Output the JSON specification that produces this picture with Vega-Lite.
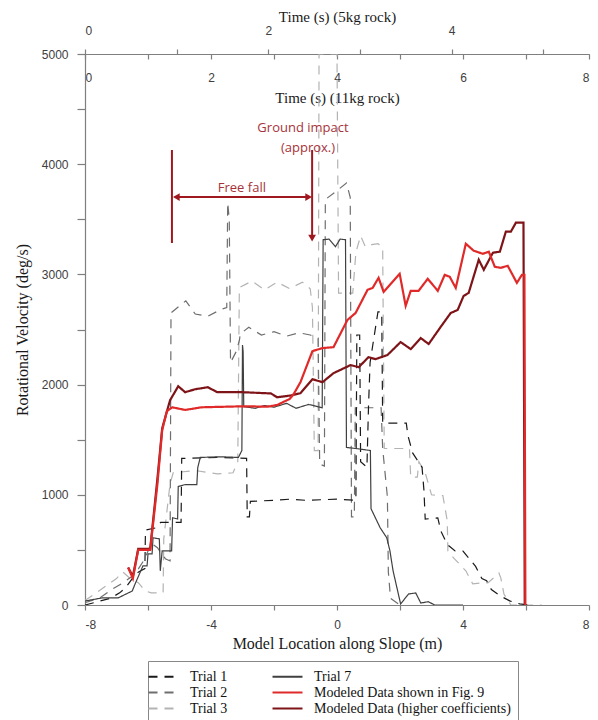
{
"$schema": "https://vega.github.io/schema/vega-lite/v6.json",
"width": 504, "height": 551,
"autosize": {"type": "none"},
"padding": {"left": 85, "top": 54, "right": 9, "bottom": 115},
"background": "white",
"config": {
  "view": {"stroke": null},
  "axis": {"grid": false, "domainColor": "#7f7f7f", "tickColor": "#7f7f7f", "labelColor": "#404040", "labelFont": "Liberation Sans", "labelFontSize": 12, "titleFont": "Liberation Serif", "titleFontWeight": "normal", "titleColor": "#1a1a1a", "titleFontSize": 16, "domainWidth": 1.2, "tickWidth": 1.2},
  "legend": {"labelFont": "Liberation Serif", "labelFontSize": 14, "labelColor": "#111"}
},
"layer": [
  {
    "data": {"values": [
      {"s":"Trial 3","m":-8,"v":40},{"s":"Trial 3","m":-7.6,"v":120},{"s":"Trial 3","m":-7.3,"v":180},{"s":"Trial 3","m":-7.0,"v":240},{"s":"Trial 3","m":-6.8,"v":300},{"s":"Trial 3","m":-6.6,"v":250},{"s":"Trial 3","m":-6.3,"v":200},{"s":"Trial 3","m":-6.1,"v":130},{"s":"Trial 3","m":-5.9,"v":110},{"s":"Trial 3","m":-5.52,"v":110},{"s":"Trial 3","m":-5.5,"v":600},{"s":"Trial 3","m":-5.3,"v":1100},{"s":"Trial 3","m":-5.2,"v":1200},{"s":"Trial 3","m":-4.5,"v":1220},{"s":"Trial 3","m":-3.8,"v":1190},{"s":"Trial 3","m":-3.3,"v":1200},{"s":"Trial 3","m":-3.15,"v":1300},{"s":"Trial 3","m":-3.1,"v":2880},{"s":"Trial 3","m":-2.7,"v":2940},{"s":"Trial 3","m":-2.3,"v":2860},{"s":"Trial 3","m":-1.9,"v":2930},{"s":"Trial 3","m":-1.5,"v":2870},{"s":"Trial 3","m":-1.1,"v":2930},{"s":"Trial 3","m":-0.85,"v":2870},{"s":"Trial 3","m":-0.78,"v":2700},{"s":"Trial 3","m":-0.72,"v":1400},{"s":"Trial 3","m":-0.6,"v":1400},{"s":"Trial 3","m":-0.57,"v":5000},{"s":"Trial 3","m":0.0,"v":5000},{"s":"Trial 3","m":0.05,"v":2830},{"s":"Trial 3","m":0.5,"v":2830},{"s":"Trial 3","m":0.6,"v":3200},{"s":"Trial 3","m":0.75,"v":3350},{"s":"Trial 3","m":0.9,"v":3250},{"s":"Trial 3","m":1.1,"v":3270},{"s":"Trial 3","m":1.3,"v":3280},{"s":"Trial 3","m":1.45,"v":3240},{"s":"Trial 3","m":1.5,"v":1420},{"s":"Trial 3","m":2.3,"v":1420},{"s":"Trial 3","m":2.34,"v":1160},{"s":"Trial 3","m":2.55,"v":1160},{"s":"Trial 3","m":2.6,"v":1300},{"s":"Trial 3","m":2.8,"v":1200},{"s":"Trial 3","m":3.0,"v":1000},{"s":"Trial 3","m":3.36,"v":993},{"s":"Trial 3","m":3.5,"v":765},{"s":"Trial 3","m":3.52,"v":492},{"s":"Trial 3","m":3.7,"v":428},{"s":"Trial 3","m":4.09,"v":310},{"s":"Trial 3","m":4.31,"v":191},{"s":"Trial 3","m":4.56,"v":200},{"s":"Trial 3","m":4.79,"v":200},{"s":"Trial 3","m":5.14,"v":290},{"s":"Trial 3","m":5.2,"v":246},{"s":"Trial 3","m":5.3,"v":100},{"s":"Trial 3","m":5.52,"v":0},{"s":"Trial 3","m":6.5,"v":0},

      {"s":"Trial 2","m":-8,"v":20},{"s":"Trial 2","m":-7.5,"v":70},{"s":"Trial 2","m":-7.1,"v":150},{"s":"Trial 2","m":-6.8,"v":200},{"s":"Trial 2","m":-6.5,"v":260},{"s":"Trial 2","m":-6.3,"v":330},{"s":"Trial 2","m":-6.1,"v":420},{"s":"Trial 2","m":-5.9,"v":560},{"s":"Trial 2","m":-5.7,"v":520},{"s":"Trial 2","m":-5.45,"v":420},{"s":"Trial 2","m":-5.3,"v":400},{"s":"Trial 2","m":-5.27,"v":2650},{"s":"Trial 2","m":-5.1,"v":2690},{"s":"Trial 2","m":-4.8,"v":2760},{"s":"Trial 2","m":-4.5,"v":2640},{"s":"Trial 2","m":-4.1,"v":2620},{"s":"Trial 2","m":-3.7,"v":2680},{"s":"Trial 2","m":-3.5,"v":2700},{"s":"Trial 2","m":-3.47,"v":3650},{"s":"Trial 2","m":-3.42,"v":3500},{"s":"Trial 2","m":-3.38,"v":2200},{"s":"Trial 2","m":-3.2,"v":2300},{"s":"Trial 2","m":-3.1,"v":2400},{"s":"Trial 2","m":-3.07,"v":2460},{"s":"Trial 2","m":-2.8,"v":2520},{"s":"Trial 2","m":-2.4,"v":2450},{"s":"Trial 2","m":-2.0,"v":2480},{"s":"Trial 2","m":-1.6,"v":2440},{"s":"Trial 2","m":-1.2,"v":2470},{"s":"Trial 2","m":-0.85,"v":2450},{"s":"Trial 2","m":-0.6,"v":2420},{"s":"Trial 2","m":-0.55,"v":1280},{"s":"Trial 2","m":-0.4,"v":1260},{"s":"Trial 2","m":-0.37,"v":3680},{"s":"Trial 2","m":0.0,"v":3760},{"s":"Trial 2","m":0.3,"v":3830},{"s":"Trial 2","m":0.42,"v":3700},{"s":"Trial 2","m":0.46,"v":800},{"s":"Trial 2","m":0.55,"v":800},{"s":"Trial 2","m":0.58,"v":1790},{"s":"Trial 2","m":1.4,"v":1790},{"s":"Trial 2","m":1.45,"v":1420},{"s":"Trial 2","m":1.6,"v":980},{"s":"Trial 2","m":1.63,"v":300},{"s":"Trial 2","m":1.7,"v":60},{"s":"Trial 2","m":2.0,"v":0},

      {"s":"Trial 1","m":-8,"v":0},{"s":"Trial 1","m":-7.6,"v":30},{"s":"Trial 1","m":-7.2,"v":60},{"s":"Trial 1","m":-6.9,"v":110},{"s":"Trial 1","m":-6.7,"v":160},{"s":"Trial 1","m":-6.5,"v":240},{"s":"Trial 1","m":-6.3,"v":300},{"s":"Trial 1","m":-6.1,"v":330},{"s":"Trial 1","m":-6.08,"v":680},{"s":"Trial 1","m":-5.75,"v":700},{"s":"Trial 1","m":-5.6,"v":750},{"s":"Trial 1","m":-4.95,"v":750},{"s":"Trial 1","m":-4.93,"v":1330},{"s":"Trial 1","m":-3.8,"v":1340},{"s":"Trial 1","m":-2.87,"v":1330},{"s":"Trial 1","m":-2.85,"v":800},{"s":"Trial 1","m":-2.78,"v":800},{"s":"Trial 1","m":-2.75,"v":940},{"s":"Trial 1","m":-2.0,"v":950},{"s":"Trial 1","m":-1.5,"v":960},{"s":"Trial 1","m":-1.0,"v":950},{"s":"Trial 1","m":-0.5,"v":955},{"s":"Trial 1","m":0.0,"v":960},{"s":"Trial 1","m":0.6,"v":950},{"s":"Trial 1","m":0.63,"v":2450},{"s":"Trial 1","m":0.72,"v":2450},{"s":"Trial 1","m":0.75,"v":1300},{"s":"Trial 1","m":0.95,"v":1250},{"s":"Trial 1","m":1.0,"v":1800},{"s":"Trial 1","m":1.05,"v":2200},{"s":"Trial 1","m":1.3,"v":2660},{"s":"Trial 1","m":1.42,"v":2660},{"s":"Trial 1","m":1.45,"v":1650},{"s":"Trial 1","m":2.2,"v":1650},{"s":"Trial 1","m":2.25,"v":1540},{"s":"Trial 1","m":2.4,"v":1380},{"s":"Trial 1","m":2.7,"v":1250},{"s":"Trial 1","m":2.76,"v":1040},{"s":"Trial 1","m":2.8,"v":780},{"s":"Trial 1","m":3.2,"v":790},{"s":"Trial 1","m":3.3,"v":670},{"s":"Trial 1","m":3.5,"v":550},{"s":"Trial 1","m":3.75,"v":490},{"s":"Trial 1","m":4.0,"v":490},{"s":"Trial 1","m":4.2,"v":420},{"s":"Trial 1","m":4.4,"v":350},{"s":"Trial 1","m":4.6,"v":240},{"s":"Trial 1","m":4.75,"v":220},{"s":"Trial 1","m":4.9,"v":140},{"s":"Trial 1","m":5.2,"v":80},{"s":"Trial 1","m":5.5,"v":35},{"s":"Trial 1","m":5.8,"v":10},{"s":"Trial 1","m":6.1,"v":0},

      {"s":"Trial 7","m":-8,"v":36},{"s":"Trial 7","m":-7.46,"v":64},{"s":"Trial 7","m":-6.95,"v":64},{"s":"Trial 7","m":-6.5,"v":127},{"s":"Trial 7","m":-6.41,"v":191},{"s":"Trial 7","m":-6.16,"v":355},{"s":"Trial 7","m":-6.03,"v":355},{"s":"Trial 7","m":-6.0,"v":464},{"s":"Trial 7","m":-5.87,"v":464},{"s":"Trial 7","m":-5.84,"v":610},{"s":"Trial 7","m":-5.64,"v":600},{"s":"Trial 7","m":-5.61,"v":310},{"s":"Trial 7","m":-5.55,"v":492},{"s":"Trial 7","m":-5.25,"v":492},{"s":"Trial 7","m":-5.22,"v":792},{"s":"Trial 7","m":-5.06,"v":780},{"s":"Trial 7","m":-5.04,"v":1075},{"s":"Trial 7","m":-4.82,"v":1093},{"s":"Trial 7","m":-4.45,"v":1093},{"s":"Trial 7","m":-4.42,"v":1248},{"s":"Trial 7","m":-4.34,"v":1339},{"s":"Trial 7","m":-3.7,"v":1345},{"s":"Trial 7","m":-3.13,"v":1339},{"s":"Trial 7","m":-3.02,"v":1402},{"s":"Trial 7","m":-3.0,"v":2359},{"s":"Trial 7","m":-2.98,"v":2300},{"s":"Trial 7","m":-2.96,"v":1800},{"s":"Trial 7","m":-2.6,"v":1785},{"s":"Trial 7","m":-2.3,"v":1810},{"s":"Trial 7","m":-2.0,"v":1795},{"s":"Trial 7","m":-1.6,"v":1830},{"s":"Trial 7","m":-1.3,"v":1785},{"s":"Trial 7","m":-0.9,"v":1820},{"s":"Trial 7","m":-0.47,"v":1790},{"s":"Trial 7","m":-0.44,"v":3315},{"s":"Trial 7","m":-0.25,"v":3320},{"s":"Trial 7","m":-0.05,"v":3251},{"s":"Trial 7","m":0.1,"v":3320},{"s":"Trial 7","m":0.27,"v":3315},{"s":"Trial 7","m":0.3,"v":1430},{"s":"Trial 7","m":0.6,"v":1420},{"s":"Trial 7","m":1.06,"v":1402},{"s":"Trial 7","m":1.08,"v":874},{"s":"Trial 7","m":1.37,"v":701},{"s":"Trial 7","m":1.58,"v":610},{"s":"Trial 7","m":1.68,"v":492},{"s":"Trial 7","m":1.78,"v":310},{"s":"Trial 7","m":2.02,"v":9},{"s":"Trial 7","m":2.27,"v":100},{"s":"Trial 7","m":2.5,"v":109},{"s":"Trial 7","m":2.66,"v":18},{"s":"Trial 7","m":2.9,"v":30},{"s":"Trial 7","m":3.1,"v":0},{"s":"Trial 7","m":4.0,"v":0},

      {"s":"Modeled Data (higher coefficients)","m":-6.63,"v":340},{"s":"Modeled Data (higher coefficients)","m":-6.48,"v":260},{"s":"Modeled Data (higher coefficients)","m":-6.31,"v":510},{"s":"Modeled Data (higher coefficients)","m":-5.93,"v":510},{"s":"Modeled Data (higher coefficients)","m":-5.7,"v":1150},{"s":"Modeled Data (higher coefficients)","m":-5.55,"v":1603},{"s":"Modeled Data (higher coefficients)","m":-5.3,"v":1858},{"s":"Modeled Data (higher coefficients)","m":-5.04,"v":1985},{"s":"Modeled Data (higher coefficients)","m":-4.82,"v":1931},{"s":"Modeled Data (higher coefficients)","m":-4.5,"v":1958},{"s":"Modeled Data (higher coefficients)","m":-4.1,"v":1976},{"s":"Modeled Data (higher coefficients)","m":-3.8,"v":1931},{"s":"Modeled Data (higher coefficients)","m":-3.0,"v":1931},{"s":"Modeled Data (higher coefficients)","m":-2.1,"v":1920},{"s":"Modeled Data (higher coefficients)","m":-1.9,"v":1885},{"s":"Modeled Data (higher coefficients)","m":-1.5,"v":1900},{"s":"Modeled Data (higher coefficients)","m":-1.16,"v":1922},{"s":"Modeled Data (higher coefficients)","m":-0.78,"v":2049},{"s":"Modeled Data (higher coefficients)","m":-0.46,"v":2022},{"s":"Modeled Data (higher coefficients)","m":-0.11,"v":2104},{"s":"Modeled Data (higher coefficients)","m":0.43,"v":2177},{"s":"Modeled Data (higher coefficients)","m":0.69,"v":2158},{"s":"Modeled Data (higher coefficients)","m":1.0,"v":2249},{"s":"Modeled Data (higher coefficients)","m":1.22,"v":2231},{"s":"Modeled Data (higher coefficients)","m":1.6,"v":2268},{"s":"Modeled Data (higher coefficients)","m":2.02,"v":2386},{"s":"Modeled Data (higher coefficients)","m":2.34,"v":2322},{"s":"Modeled Data (higher coefficients)","m":2.66,"v":2422},{"s":"Modeled Data (higher coefficients)","m":2.91,"v":2368},{"s":"Modeled Data (higher coefficients)","m":3.29,"v":2523},{"s":"Modeled Data (higher coefficients)","m":3.61,"v":2650},{"s":"Modeled Data (higher coefficients)","m":3.83,"v":2677},{"s":"Modeled Data (higher coefficients)","m":4.02,"v":2805},{"s":"Modeled Data (higher coefficients)","m":4.18,"v":2832},{"s":"Modeled Data (higher coefficients)","m":4.5,"v":3133},{"s":"Modeled Data (higher coefficients)","m":4.66,"v":3042},{"s":"Modeled Data (higher coefficients)","m":4.95,"v":3197},{"s":"Modeled Data (higher coefficients)","m":5.17,"v":3206},{"s":"Modeled Data (higher coefficients)","m":5.36,"v":3388},{"s":"Modeled Data (higher coefficients)","m":5.52,"v":3388},{"s":"Modeled Data (higher coefficients)","m":5.68,"v":3470},{"s":"Modeled Data (higher coefficients)","m":5.92,"v":3470},{"s":"Modeled Data (higher coefficients)","m":5.96,"v":0},

      {"s":"Modeled Data shown in Fig. 9","m":-6.63,"v":340},{"s":"Modeled Data shown in Fig. 9","m":-6.48,"v":240},{"s":"Modeled Data shown in Fig. 9","m":-6.31,"v":500},{"s":"Modeled Data shown in Fig. 9","m":-5.93,"v":500},{"s":"Modeled Data shown in Fig. 9","m":-5.7,"v":1100},{"s":"Modeled Data shown in Fig. 9","m":-5.55,"v":1585},{"s":"Modeled Data shown in Fig. 9","m":-5.4,"v":1760},{"s":"Modeled Data shown in Fig. 9","m":-5.23,"v":1794},{"s":"Modeled Data shown in Fig. 9","m":-4.82,"v":1770},{"s":"Modeled Data shown in Fig. 9","m":-4.3,"v":1794},{"s":"Modeled Data shown in Fig. 9","m":-3.0,"v":1803},{"s":"Modeled Data shown in Fig. 9","m":-2.2,"v":1800},{"s":"Modeled Data shown in Fig. 9","m":-1.9,"v":1815},{"s":"Modeled Data shown in Fig. 9","m":-1.5,"v":1870},{"s":"Modeled Data shown in Fig. 9","m":-1.38,"v":1912},{"s":"Modeled Data shown in Fig. 9","m":-1.16,"v":2022},{"s":"Modeled Data shown in Fig. 9","m":-0.78,"v":2304},{"s":"Modeled Data shown in Fig. 9","m":-0.46,"v":2331},{"s":"Modeled Data shown in Fig. 9","m":-0.11,"v":2340},{"s":"Modeled Data shown in Fig. 9","m":0.33,"v":2586},{"s":"Modeled Data shown in Fig. 9","m":0.59,"v":2650},{"s":"Modeled Data shown in Fig. 9","m":0.97,"v":2860},{"s":"Modeled Data shown in Fig. 9","m":1.13,"v":2877},{"s":"Modeled Data shown in Fig. 9","m":1.32,"v":2969},{"s":"Modeled Data shown in Fig. 9","m":1.48,"v":2841},{"s":"Modeled Data shown in Fig. 9","m":1.99,"v":3005},{"s":"Modeled Data shown in Fig. 9","m":2.18,"v":2714},{"s":"Modeled Data shown in Fig. 9","m":2.34,"v":2851},{"s":"Modeled Data shown in Fig. 9","m":2.59,"v":2851},{"s":"Modeled Data shown in Fig. 9","m":2.88,"v":2960},{"s":"Modeled Data shown in Fig. 9","m":3.2,"v":2851},{"s":"Modeled Data shown in Fig. 9","m":3.42,"v":2996},{"s":"Modeled Data shown in Fig. 9","m":3.58,"v":2978},{"s":"Modeled Data shown in Fig. 9","m":3.77,"v":2877},{"s":"Modeled Data shown in Fig. 9","m":4.09,"v":3278},{"s":"Modeled Data shown in Fig. 9","m":4.34,"v":3215},{"s":"Modeled Data shown in Fig. 9","m":4.63,"v":3187},{"s":"Modeled Data shown in Fig. 9","m":4.82,"v":3206},{"s":"Modeled Data shown in Fig. 9","m":5.01,"v":3069},{"s":"Modeled Data shown in Fig. 9","m":5.2,"v":3060},{"s":"Modeled Data shown in Fig. 9","m":5.42,"v":3078},{"s":"Modeled Data shown in Fig. 9","m":5.71,"v":2923},{"s":"Modeled Data shown in Fig. 9","m":5.87,"v":2996},{"s":"Modeled Data shown in Fig. 9","m":5.95,"v":2996},{"s":"Modeled Data shown in Fig. 9","m":5.98,"v":0}
    ]},
    "layer": [
      {
        "transform": [{"filter": {"field": "s", "oneOf": ["Trial 1", "Trial 2", "Trial 3", "Trial 7"]}}],
        "mark": {"type": "line", "strokeWidth": 1.2, "clip": true},
        "encoding": {
          "x": {"field": "m", "type": "quantitative", "scale": {"domain": [-8, 8], "nice": false},
                "axis": {"orient": "bottom", "values": [-8,-6,-4,-2,0,2,4,6,8], "labelExpr": "datum.value % 4 == 0 ? '' + datum.value : ''", "tickSize": 5, "labelPadding": 9, "titlePadding": 5, "title": "Model Location along Slope (m)"}},
          "y": {"field": "v", "type": "quantitative", "scale": {"domain": [0, 5000], "nice": false},
                "axis": {"values": [0,500,1000,1500,2000,2500,3000,3500,4000,4500,5000], "labelExpr": "datum.value % 1000 == 0 ? '' + datum.value : ''", "tickSize": 8, "labelPadding": 9, "titlePadding": 11, "title": "Rotational Velocity (deg/s)"}},
          "color": {"field": "s", "type": "nominal",
                "scale": {"domain": ["Trial 1", "Trial 2", "Trial 3", "Trial 7", "Modeled Data shown in Fig. 9", "Modeled Data (higher coefficients)"], "range": ["#1a1a1a", "#6e6e6e", "#b3b3b3", "#404040", "#e02a2a", "#7e1418"]},
                "legend": {"orient": "none", "legendX": 63, "legendY": 607, "columns": 2, "columnPadding": 40, "rowPadding": 0, "title": null, "labelFont": "Liberation Serif", "labelFontSize": 14, "labelColor": "#111", "labelOffset": 18, "labelLimit": 300, "symbolType": "M-2,0H2", "symbolSize": 225, "symbolStrokeWidth": 1.8, "strokeColor": "#888", "padding": 7, "fillColor": "white"}},
          "strokeDash": {"field": "s", "type": "nominal",
                "scale": {"domain": ["Trial 1", "Trial 2", "Trial 3", "Trial 7", "Modeled Data shown in Fig. 9", "Modeled Data (higher coefficients)"], "range": [[9,7], [9,7], [9,7], [1,0], [1,0], [1,0]]},
                "legend": {"orient": "none", "legendX": 63, "legendY": 607, "columns": 2, "columnPadding": 40, "rowPadding": 0, "title": null, "labelFont": "Liberation Serif", "labelFontSize": 14, "labelColor": "#111", "labelOffset": 18, "labelLimit": 300, "symbolType": "M-2,0H2", "symbolSize": 225, "symbolStrokeWidth": 1.8, "strokeColor": "#888", "padding": 7, "fillColor": "white"}}
        }
      },
      {
        "transform": [{"filter": {"field": "s", "oneOf": ["Modeled Data shown in Fig. 9", "Modeled Data (higher coefficients)"]}}],
        "mark": {"type": "line", "strokeWidth": 2.2, "clip": true},
        "encoding": {
          "x": {"field": "m", "type": "quantitative"},
          "y": {"field": "v", "type": "quantitative"},
          "color": {"field": "s", "type": "nominal"},
          "strokeDash": {"field": "s", "type": "nominal"}
        }
      },
      {
        "data": {"values": [{"m": -5.24, "lo": 3285, "hi": 4129}, {"m": -0.79, "lo": 3330, "hi": 4129}]},
        "mark": {"type": "rule", "color": "#a0181f", "strokeWidth": 2},
        "encoding": {"x": {"field": "m", "type": "quantitative"}, "y": {"field": "lo", "type": "quantitative"}, "y2": {"field": "hi"}}
      },
      {
        "data": {"values": [{"a": -5.15, "b": -0.88, "v": 3702}]},
        "mark": {"type": "rule", "color": "#a0181f", "strokeWidth": 2},
        "encoding": {"x": {"field": "a", "type": "quantitative"}, "x2": {"field": "b"}, "y": {"field": "v", "type": "quantitative"}}
      },
      {
        "data": {"values": [{"m": -5.1, "v": 3702, "sh": "triangle-left"}, {"m": -0.9, "v": 3702, "sh": "triangle-right"}, {"m": -0.79, "v": 3330, "sh": "triangle-down"}]},
        "mark": {"type": "point", "filled": true, "color": "#a0181f", "size": 60, "opacity": 1},
        "encoding": {"x": {"field": "m", "type": "quantitative"}, "y": {"field": "v", "type": "quantitative"}, "shape": {"field": "sh", "type": "nominal", "scale": null}}
      },
      {
        "data": {"values": [{"m": -3.02, "v": 3784, "t": "Free fall"}, {"m": -1.08, "v": 4328, "t": "Ground impact"}, {"m": -0.92, "v": 4147, "t": "(approx.)"}]},
        "mark": {"type": "text", "font": "Open Sans", "fontSize": 13, "color": "#a8323a", "baseline": "middle", "align": "center"},
        "encoding": {"x": {"field": "m", "type": "quantitative"}, "y": {"field": "v", "type": "quantitative"}, "text": {"field": "t"}}
      }
    ]
  },
  {
    "data": {"values": [{"t": 0}]},
    "mark": {"type": "point", "opacity": 0},
    "encoding": {"x": {"field": "t", "type": "quantitative", "scale": {"domain": [0, 5.5], "nice": false},
      "axis": {"orient": "top", "values": [0,1,2,3,4,5], "labelExpr": "datum.value % 2 == 0 ? '' + datum.value : ''", "tickSize": 5, "labelPadding": 12, "title": "Time (s) (5kg rock)", "titleFontSize": 15, "titlePadding": 0}}}
  },
  {
    "data": {"values": [{"t": 0}]},
    "mark": {"type": "point", "opacity": 0},
    "encoding": {"x": {"field": "t", "type": "quantitative", "scale": {"domain": [0, 8], "nice": false},
      "axis": {"orient": "bottom", "offset": -551, "values": [0,1,2,3,4,5,6,7,8], "labelExpr": "datum.value % 2 == 0 ? '' + datum.value : ''", "tickSize": 5, "labelPadding": 13, "title": "Time (s) (11kg rock)", "titleFontSize": 15, "titlePadding": 7}}}
  }
],
"resolve": {"scale": {"x": "independent"}, "axis": {"x": "independent"}}
}
